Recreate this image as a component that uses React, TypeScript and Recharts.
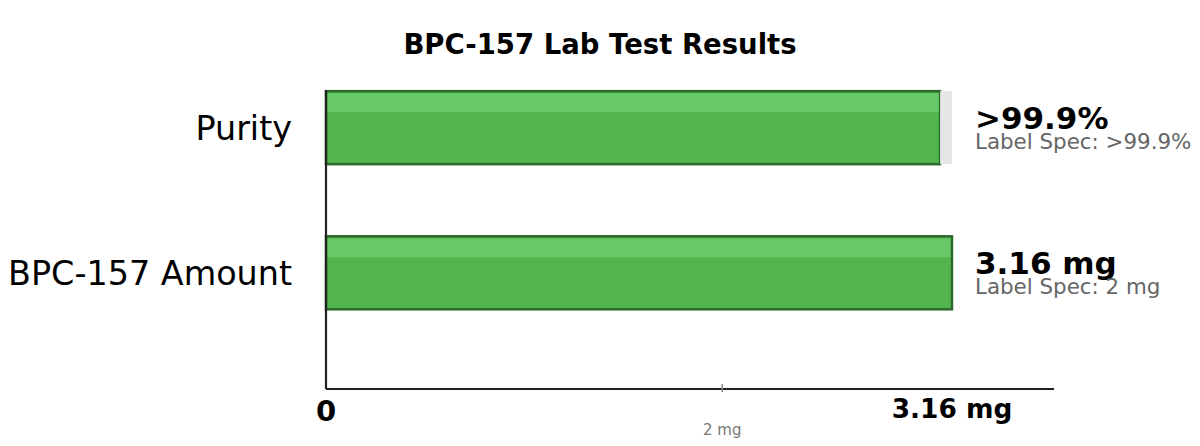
import React from 'react';
import { BarChart, Bar, XAxis, YAxis, LabelList } from 'recharts';

// rows, top to bottom
const categories = ['Purity', 'BPC-157 Amount'];
const rowPositions = [0, 1];
const measured = [3.10, 3.16];
const track = [0.06, 0];
const valueLabels = ['>99.9%', '3.16 mg'];
const specLabels = ['Label Spec: >99.9%', 'Label Spec: 2 mg'];
const labelAnchor = 3.16;

const xTicks = [0, 2, 3.16];
const xTickLabels = ['0', '2 mg', '3.16 mg'];

const data = categories.map((name, i) => ({
  name,
  pos: rowPositions[i],
  measured: measured[i],
  track: track[i],
  value: valueLabels[i],
}));

const FONT = '"DejaVu Sans", sans-serif';

const GreenBar = (props: any) => {
  const { x, y, width, height } = props;
  if (!width || !height) return null;
  return (
    <g>
      <rect x={x} y={y} width={width} height={height} fill="#52b54c" />
      <rect x={x + 1} y={y + 2} width={width - 2} height={19} fill="#66c866" />
      <rect x={x} y={y} width={width} height={height} fill="none" stroke="#2b6a2b" strokeWidth={2.5} />
    </g>
  );
};

const ValueLabel = (props: any) => {
  const { x, y, width, height, index } = props;
  // labels sit at a common position past the 3.16 mark
  const lx = x + width * (labelAnchor / measured[index]) + 23;
  const cy = y + height / 2;
  return (
    <g fontFamily={FONT}>
      <text x={lx} y={cy + 1} fontSize={31} fontWeight="bold" fill="#000">{valueLabels[index]}</text>
      <text x={lx} y={cy + 21} fontSize={21.4} fill="#666">{specLabels[index]}</text>
    </g>
  );
};

const CategoryTick = (props: any) => {
  const { y, payload } = props;
  const idx = rowPositions.indexOf(payload.value);
  return (
    <text x={292} y={y + 12} textAnchor="end" fontFamily={FONT} fontSize={33.4} fill="#000">
      {categories[idx]}
    </text>
  );
};

const ValueTick = (props: any) => {
  const { x, y, payload } = props;
  const idx = xTicks.indexOf(payload.value);
  if (idx === 0) {
    return <text x={x} y={y + 32} textAnchor="middle" fontFamily={FONT} fontSize={29} fontWeight="bold" fill="#000">{xTickLabels[idx]}</text>;
  }
  if (idx === 1) {
    return (
      <g>
        <line x1={x} x2={x} y1={y - 5} y2={y + 3} stroke="#888" strokeWidth={1.5} />
        <text x={x} y={y + 46} textAnchor="middle" fontFamily={FONT} fontSize={15} fill="#777">{xTickLabels[idx]}</text>
      </g>
    );
  }
  return <text x={x} y={y + 29} textAnchor="middle" fontFamily={FONT} fontSize={26.4} fontWeight="bold" fill="#000">{xTickLabels[idx]}</text>;
};

export default function App() {
  return (
    <div style={{ position: 'relative', width: 1200, height: 446, background: '#fff', fontFamily: FONT }}>
      <style>{'body{margin:0}'}</style>
      <div style={{ position: 'absolute', top: 27.5, left: 0, width: 1200, textAlign: 'center', fontSize: 27.5, lineHeight: 1.164, fontWeight: 'bold', color: '#000' }}>
        BPC-157 Lab Test Results
      </div>
      <BarChart
        width={1200}
        height={446}
        data={data}
        layout="vertical"
        margin={{ top: 90, right: 146, bottom: 0, left: 0 }}
      >
        <XAxis
          type="number"
          domain={[0, 3.675]}
          ticks={xTicks}
          tick={<ValueTick />}
          tickLine={false}
          tickSize={0}
          tickMargin={0}
          height={57}
          axisLine={{ stroke: '#222', strokeWidth: 2.2 }}
          interval={0}
        />
        <YAxis
          type="number"
          dataKey="pos"
          domain={[-0.26, 1.8]}
          ticks={rowPositions}
          tick={<CategoryTick />}
          tickLine={false}
          width={326}
          axisLine={{ stroke: '#222', strokeWidth: 2.2 }}
          interval={0}
        />
        <Bar dataKey="measured" stackId="a" barSize={73} shape={<GreenBar />} isAnimationActive={false}>
          <LabelList dataKey="value" content={<ValueLabel />} />
        </Bar>
        <Bar dataKey="track" stackId="a" barSize={73} fill="#e6e6e6" isAnimationActive={false} />
      </BarChart>
    </div>
  );
}
